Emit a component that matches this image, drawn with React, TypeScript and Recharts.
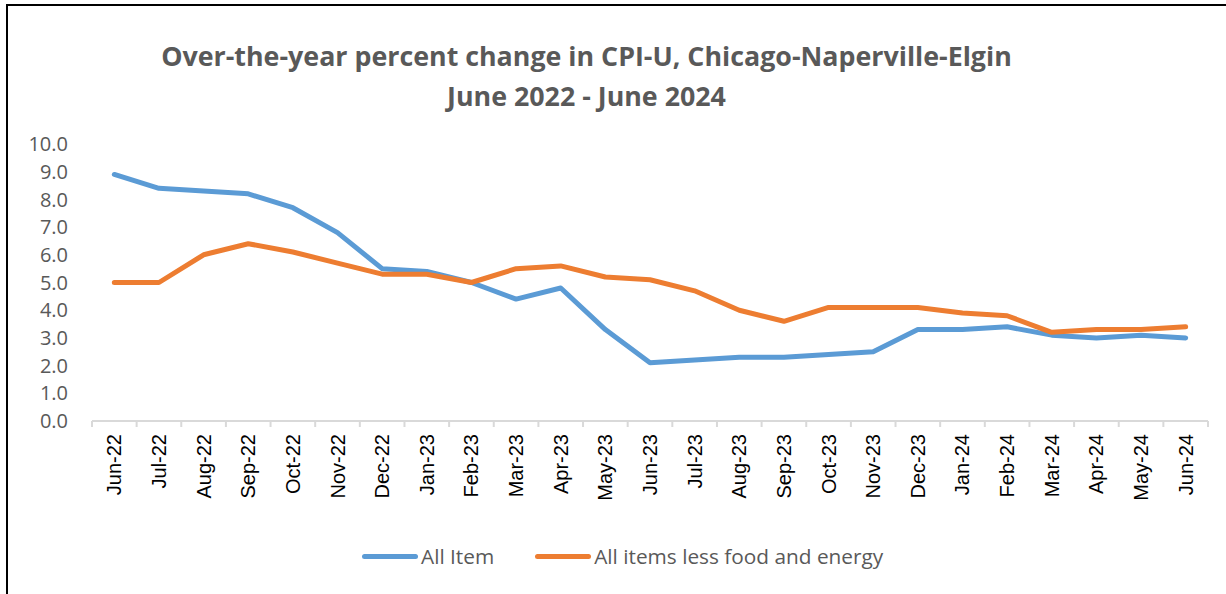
import React from 'react';
import { LineChart, Line, XAxis, YAxis } from 'recharts';

// Over-the-year percent change, CPI-U Chicago-Naperville-Elgin
const months = [
    'Jun-22', 'Jul-22', 'Aug-22', 'Sep-22', 'Oct-22', 'Nov-22', 'Dec-22',
    'Jan-23', 'Feb-23', 'Mar-23', 'Apr-23', 'May-23', 'Jun-23', 'Jul-23',
    'Aug-23', 'Sep-23', 'Oct-23', 'Nov-23', 'Dec-23', 'Jan-24', 'Feb-24',
    'Mar-24', 'Apr-24', 'May-24', 'Jun-24',
];
const allItems = [
    8.9, 8.4, 8.3, 8.2, 7.7, 6.8, 5.5, 5.4, 5.0, 4.4, 4.8, 3.3, 2.1,
    2.2, 2.3, 2.3, 2.4, 2.5, 3.3, 3.3, 3.4, 3.1, 3.0, 3.1, 3.0,
];
const coreItems = [
    5.0, 5.0, 6.0, 6.4, 6.1, 5.7, 5.3, 5.3, 5.0, 5.5, 5.6, 5.2, 5.1,
    4.7, 4.0, 3.6, 4.1, 4.1, 4.1, 3.9, 3.8, 3.2, 3.3, 3.3, 3.4,
];
const yTicks = [0, 1, 2, 3, 4, 5, 6, 7, 8, 9, 10];
const seriesNames = ['All Item', 'All items less food and energy'];
const seriesColors = ['#5B9BD5', '#ED7D31'];

const data = months.map((m, i) => ({ month: m, all: allItems[i], core: coreItems[i] }));

const W = 1226;
const H = 594;
const PLOT_LEFT = 92;
const PLOT_RIGHT = 1208;
const STEP = (PLOT_RIGHT - PLOT_LEFT) / months.length;

const MonthTick = (props: any) => {
    const { x, y, payload, index } = props;
    const last = index === months.length - 1;
    return (
        <g>
            <line x1={x - STEP / 2} y1={y} x2={x - STEP / 2} y2={y + 6} stroke="#d9d9d9" strokeWidth={2} />
            {last && <line x1={x + STEP / 2} y1={y} x2={x + STEP / 2} y2={y + 6} stroke="#d9d9d9" strokeWidth={2} />}
            <text
                x={0}
                y={0}
                transform={`translate(${x + 7},${y + 13}) rotate(-90)`}
                textAnchor="end"
                fontFamily="'Liberation Sans', Arial, sans-serif"
                fontSize={20}
                fill="#000"
            >
                {payload.value}
            </text>
        </g>
    );
};

const App: React.FC = () => {
    return (
        <div style={{ position: 'absolute', left: 0, top: 0, width: W, height: H, background: '#fff', overflow: 'hidden' }}>
            <div style={{ position: 'absolute', left: 6, top: 4, width: W, height: 2, background: '#000' }} />
            <div style={{ position: 'absolute', left: 6, top: 4, width: 2, height: H, background: '#000' }} />
            <div
                style={{
                    position: 'absolute', left: 0, top: 36, width: 1173, textAlign: 'center',
                    fontFamily: "'Open Sans', sans-serif", fontWeight: 700, fontSize: 26.8,
                    color: '#595959', lineHeight: '40px',
                }}
            >
                <div>Over-the-year percent change in CPI-U, Chicago-Naperville-Elgin</div>
                <div>June 2022 - June 2024</div>
            </div>
            <div style={{ position: 'absolute', left: 0, top: 0 }}>
                <LineChart width={W} height={H} data={data} margin={{ top: 144, right: W - PLOT_RIGHT, left: 0, bottom: 0 }}>
                    <XAxis
                        dataKey="month"
                        height={H - 421}
                        interval={0}
                        padding={{ left: STEP / 2, right: STEP / 2 }}
                        axisLine={{ stroke: '#d9d9d9', strokeWidth: 2 }}
                        tickLine={false}
                        tickSize={0}
                        tickMargin={0}
                        tick={<MonthTick />}
                    />
                    <YAxis
                        width={PLOT_LEFT}
                        domain={[0, 10]}
                        ticks={yTicks}
                        interval={0}
                        axisLine={false}
                        tickLine={false}
                        tickMargin={18}
                        tickFormatter={(v: number) => v.toFixed(1)}
                        tick={{ fill: '#595959', fontSize: 20, fontFamily: "'Open Sans', sans-serif" }}
                    />
                    <Line type="linear" dataKey="all" name={seriesNames[0]} stroke={seriesColors[0]} strokeWidth={5}
                        strokeLinecap="round" strokeLinejoin="round" dot={false} isAnimationActive={false} />
                    <Line type="linear" dataKey="core" name={seriesNames[1]} stroke={seriesColors[1]} strokeWidth={5}
                        strokeLinecap="round" strokeLinejoin="round" dot={false} isAnimationActive={false} />
                </LineChart>
            </div>
            <div
                style={{
                    position: 'absolute', left: 362, top: 542, display: 'flex', alignItems: 'center',
                    fontFamily: "'Open Sans', sans-serif", fontSize: 20.8, color: '#595959',
                }}
            >
                {seriesNames.map((n, i) => (
                    <div key={n} style={{ display: 'flex', alignItems: 'center', marginRight: 41 }}>
                        <span style={{ display: 'inline-block', width: 56, height: 5, borderRadius: 3, background: seriesColors[i], marginRight: 3 }} />
                        <span>{n}</span>
                    </div>
                ))}
            </div>
        </div>
    );
};

export default App;
